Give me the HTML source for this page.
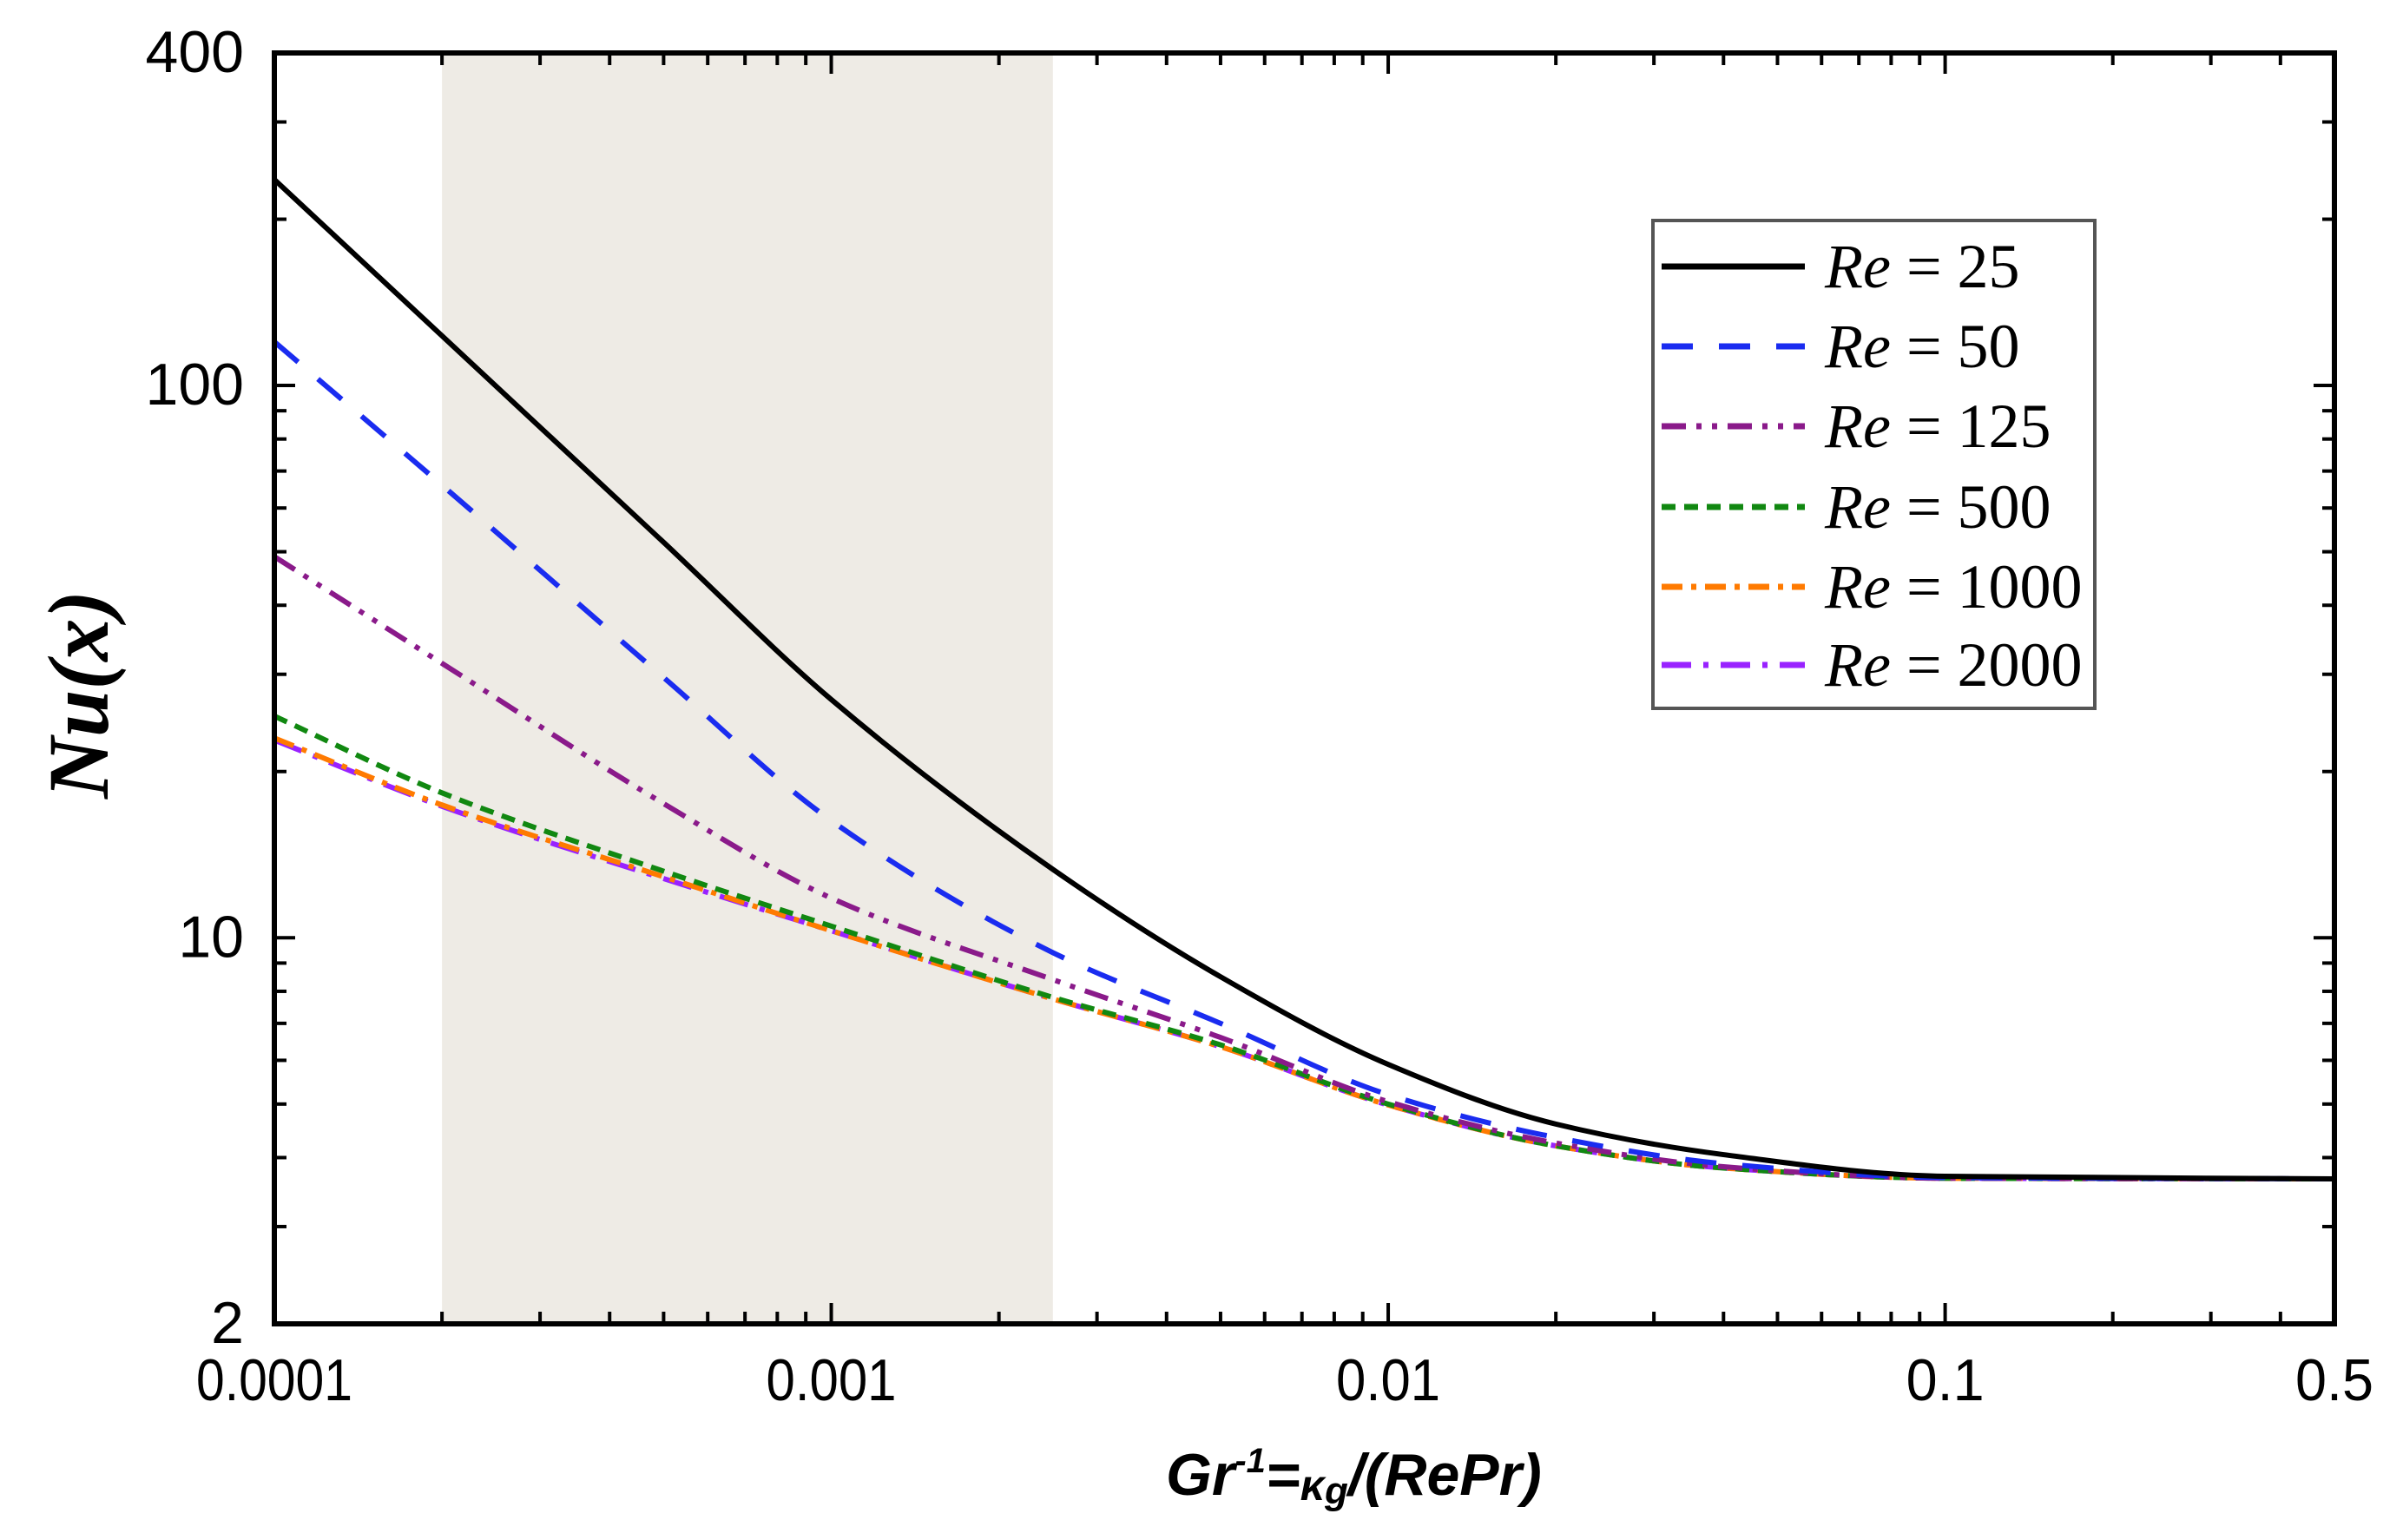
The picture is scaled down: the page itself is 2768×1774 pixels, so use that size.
<!DOCTYPE html>
<html><head><meta charset="utf-8"><style>
html,body{margin:0;padding:0;background:#fff;}
svg{display:block;}
</style></head><body>
<svg id="chart" width="2768" height="1774" viewBox="0 0 2768 1774" xmlns="http://www.w3.org/2000/svg">
<rect x="0" y="0" width="2768" height="1774" fill="#fff"/>
<g id="shade"></g>
<g id="series"></g>
<g id="axes"></g>
<g id="legend"></g>
</svg>
<script>
const xs = [1e-4, 2e-4, 5e-4, 1e-3, 2.5e-3, 5e-3, 1e-2, 2e-2, 4e-2, 0.1, 0.5];
const re25 = [236, 123, 52, 27, 13.3, 8.5, 5.9, 4.6, 4.05, 3.7, 3.66];
const re50 = [120, 66, 29.6, 16.3, 9.4, 7.0, 5.2, 4.35, 3.9, 3.68, 3.66];
const re125 = [49, 31.4, 17.5, 11.8, 8.4, 6.6, 5.05, 4.25, 3.85, 3.67, 3.66];
const re500 = [25.2, 18.3, 13.2, 10.5, 7.8, 6.4, 5.0, 4.2, 3.83, 3.67, 3.66];
const re1000 = [23.0, 17.4, 12.9, 10.3, 7.75, 6.35, 4.98, 4.2, 3.83, 3.67, 3.66];
const re2000 = [22.8, 17.3, 12.8, 10.3, 7.75, 6.35, 4.98, 4.2, 3.83, 3.67, 3.66];
const shadeRange = [2e-4, 2.5e-3];
const xTickLabels = ["0.0001", "0.001", "0.01", "0.1", "0.5"];
const xTickValues = [1e-4, 1e-3, 1e-2, 0.1, 0.5];
const yTickLabels = ["2", "10", "100", "400"];
const yTickValues = [2, 10, 100, 400];
const legendLabels = ["Re = 25", "Re = 50", "Re = 125", "Re = 500", "Re = 1000", "Re = 2000"];

const L=316,R=2689,T=61,B=1525, XMIN=1e-4,XMAX=0.5,YMIN=2,YMAX=400;
const NS="http://www.w3.org/2000/svg";
function X(v){return L+(Math.log10(v)-Math.log10(XMIN))/(Math.log10(XMAX)-Math.log10(XMIN))*(R-L);}
function Y(v){return B-(Math.log10(v)-Math.log10(YMIN))/(Math.log10(YMAX)-Math.log10(YMIN))*(B-T);}
function mk(tag,attrs,parent){const e=document.createElementNS(NS,tag);for(const k in attrs)e.setAttribute(k,attrs[k]);parent.appendChild(e);return e;}

const shade=document.getElementById('shade');
const sr=mk('rect',{x:X(shadeRange[0]),y:T,width:X(shadeRange[1])-X(shadeRange[0]),height:B-T,fill:'#eeebe5'},shade);



const styles=[
 {c:'#000000',d:'none',n:'re-25'},
 {c:'#1a2cf0',d:'36 30',n:'re-50'},
 {c:'#8a1a8a',d:'28 12 6 12 6 12',n:'re-125'},
 {c:'#118811',d:'16 10',n:'re-500'},
 {c:'#ff7a00',d:'24 10 6 10',n:'re-1000'},
 {c:'#9922ff',d:'34 14 6 14',n:'re-2000'}
];
const series=[re25,re50,re125,re500,re1000,re2000];
const sg=document.getElementById('series');
// monotone cubic (Fritsch-Carlson)
function monoPath(pts){
  const n=pts.length, dx=[], m=[], t=new Array(n);
  for(let i=0;i<n-1;i++){dx.push(pts[i+1][0]-pts[i][0]);m.push((pts[i+1][1]-pts[i][1])/dx[i]);}
  t[0]=m[0];t[n-1]=m[n-2];
  for(let i=1;i<n-1;i++){ if(m[i-1]*m[i]<=0) t[i]=0; else { const w1=2*dx[i]+dx[i-1], w2=dx[i]+2*dx[i-1]; t[i]=(w1+w2)/(w1/m[i-1]+w2/m[i]); } }
  let d='M'+pts[0][0]+','+pts[0][1];
  for(let i=0;i<n-1;i++){const h=dx[i]/3;
    d+=' C'+(pts[i][0]+h)+','+(pts[i][1]+t[i]*h)+' '+(pts[i+1][0]-h)+','+(pts[i+1][1]-t[i+1]*h)+' '+pts[i+1][0]+','+pts[i+1][1];}
  return d;
}
for(let s=series.length-1;s>=0;s--){
  const pts=xs.map((x,i)=>[X(x),Y(series[s][i])]);
  const p=mk('path',{d:monoPath(pts),fill:'none',stroke:styles[s].c,'stroke-width':6,'stroke-dasharray':styles[s].d},sg);
  
  
}

const ax=document.getElementById('axes');
const frame=mk('rect',{x:L,y:T,width:R-L,height:B-T,fill:'none',stroke:'#000','stroke-width':6},ax);


for(let e=-4;e<=-1;e++){for(let m=1;m<=9;m++){const v=m*Math.pow(10,e);if(v>XMAX*1.0001)continue;const x=X(v);const len=m===1?24:14;
 mk('line',{x1:x,y1:B,x2:x,y2:B-len,stroke:'#000','stroke-width':4},ax);
 mk('line',{x1:x,y1:T,x2:x,y2:T+len,stroke:'#000','stroke-width':4},ax);}}
for(let e=0;e<=2;e++){for(let m=1;m<=9;m++){const v=m*Math.pow(10,e);if(v<YMIN||v>YMAX)continue;const y=Y(v);const len=m===1?24:14;
 mk('line',{x1:L,y1:y,x2:L+len,y2:y,stroke:'#000','stroke-width':4},ax);
 mk('line',{x1:R,y1:y,x2:R-len,y2:y,stroke:'#000','stroke-width':4},ax);}}
xTickLabels.forEach((t,i)=>{const e=mk('text',{x:X(xTickValues[i]),y:1613,'text-anchor':'middle','font-family':'Liberation Sans, sans-serif','font-size':68,fill:'#000',textLength:t.length*30,lengthAdjust:'spacingAndGlyphs'},ax);e.textContent=t;
 
 });
yTickLabels.forEach((t,i)=>{const e=mk('text',{x:281,y:Y(yTickValues[i])+22,'text-anchor':'end','font-family':'Liberation Sans, sans-serif','font-size':68,fill:'#000'},ax);e.textContent=t;
 
 });
const yt=mk('text',{x:0,y:0,transform:'translate(124,800) rotate(-90)','text-anchor':'middle','font-family':'Liberation Serif, serif','font-size':100,'font-weight':'bold','font-style':'italic',fill:'#000',textLength:240,lengthAdjust:'spacingAndGlyphs'},ax);
yt.textContent='Nu(x)';


const xt=mk('text',{x:1343,y:1722,'font-family':'Liberation Sans, sans-serif','font-size':68,'font-weight':'bold','font-style':'italic',fill:'#000'},ax);
xt.innerHTML='Gr<tspan font-size="40" dy="-26">-1</tspan><tspan dy="26">=</tspan><tspan font-size="50" dy="6">κ</tspan><tspan font-size="44" dy="4">g</tspan><tspan dy="-10">/(RePr)</tspan>';



const lg=document.getElementById('legend');
const box=mk('rect',{x:1904,y:254,width:509,height:562,fill:'#fff',stroke:'#555','stroke-width':4},lg);


const ly=[307,399,491,584,676,766];
legendLabels.forEach((t,i)=>{
 const ln=mk('line',{x1:1914,y1:ly[i],x2:2079,y2:ly[i],stroke:styles[i].c,'stroke-width':7,'stroke-dasharray':styles[i].d},lg);
 
 
 const tx=mk('text',{x:2102,y:ly[i]+24,'font-family':'Liberation Serif, serif','font-size':72,fill:'#000'},lg);
 const parts=t.split(' = ');
 tx.innerHTML='<tspan font-style="italic">'+parts[0]+'</tspan> = '+parts[1];
 
 
});
</script>
</body></html>
